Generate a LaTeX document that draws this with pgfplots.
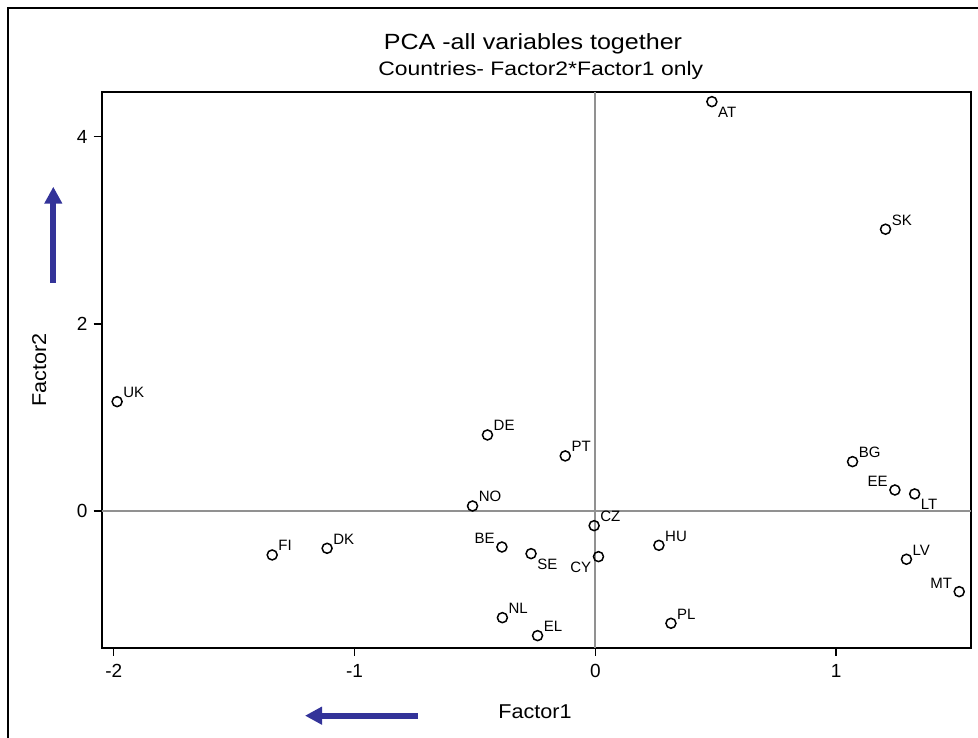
\documentclass[border=0pt]{standalone}
\usepackage{fontspec}
\setmainfont{Liberation Sans}
\usepackage{graphicx}
\usepackage{pgfplots}
\pgfplotsset{compat=1.18}
\usetikzlibrary{arrows.meta}

\definecolor{arrowblue}{RGB}{51,51,153}
\definecolor{refgray}{RGB}{145,145,145}
\newcommand\labelfont{\fontsize{15}{17}\selectfont}

\begin{document}
\begin{tikzpicture}[x=1pt,y=1pt]
\useasboundingbox (0,0) rectangle (978,738);
% outer frame of the graph window
\draw[line width=2pt] (8.3,-10) -- (8.3,729.7) -- (990,729.7);

\begin{axis}[
  at={(101.7pt,90pt)}, anchor=south west,
  width=869.3pt, height=556pt, scale only axis,
  xmin=-2.050, xmax=1.560, ymin=-1.464, ymax=4.476,
  axis line style={line width=1.8pt},
  xtick={-2,-1,0,1}, ytick={0,2,4},
  xticklabels={-2,-1,0,1}, yticklabels={0,2,4},
  tick align=outside, xtick pos=bottom, ytick pos=left,
  major tick length=8pt,
  tick style={line width=1.5pt, black},
  ticklabel style={font=\fontsize{19}{21}\selectfont},
  x tick label style={yshift=-5pt},
  y tick label style={xshift=-2.7pt},
  clip=false,
]
% reference lines through the origin
\addplot[refgray, line width=2pt, forget plot] coordinates {(0,-1.464) (0,4.476)};
\addplot[refgray, line width=2pt, forget plot] coordinates {(-2.050,0) (1.560,0)};

% labels above right
\addplot[only marks, mark=o, mark size=5pt, mark options={line width=1.5pt, black},
  nodes near coords, point meta=explicit symbolic,
  every node near coord/.style={anchor=base west, inner sep=0pt, xshift=5.5pt, yshift=4pt, font=\labelfont, black}]
  table[meta=label] {
x      y      label
-1.986  1.168 UK
-1.342 -0.470 FI
-1.114 -0.399 DK
-0.510  0.053 NO
-0.448  0.812 DE
-0.386 -1.140 NL
-0.240 -1.332 EL
-0.125  0.588 PT
-0.005 -0.157 CZ
 0.264 -0.367 HU
 0.314 -1.200 PL
 1.068  0.527 BG
 1.205  3.010 SK
 1.292 -0.516 LV
};

% labels below right
\addplot[only marks, mark=o, mark size=5pt, mark options={line width=1.5pt, black},
  nodes near coords, point meta=explicit symbolic,
  every node near coord/.style={anchor=base west, inner sep=0pt, xshift=5.5pt, yshift=-16pt, font=\labelfont, black}]
  table[meta=label] {
x      y      label
 0.484  4.373 AT
-0.267 -0.456 SE
 1.326  0.182 LT
};

% labels above left
\addplot[only marks, mark=o, mark size=5pt, mark options={line width=1.5pt, black},
  nodes near coords, point meta=explicit symbolic,
  every node near coord/.style={anchor=base east, inner sep=0pt, xshift=-6.5pt, yshift=3.5pt, font=\labelfont, black}]
  table[meta=label] {
x      y      label
-0.388 -0.385 BE
 1.244  0.224 EE
 1.511 -0.862 MT
};

% labels below left
\addplot[only marks, mark=o, mark size=5pt, mark options={line width=1.5pt, black},
  nodes near coords, point meta=explicit symbolic,
  every node near coord/.style={anchor=base east, inner sep=0pt, xshift=-6.5pt, yshift=-15.5pt, font=\labelfont, black}]
  table[meta=label] {
x      y      label
 0.013 -0.488 CY
};
\end{axis}

% titles
\node[anchor=base, inner sep=0pt] at (533,688.5)
  {\fontsize{22}{24}\selectfont\scalebox{1.14}[1]{PCA -all variables together}};
\node[anchor=base, inner sep=0pt] at (540.8,662.5)
  {\fontsize{19.5}{22}\selectfont\scalebox{1.175}[1]{Countries- Factor2*Factor1 only}};

% axis labels
\node[anchor=base, inner sep=0pt] at (535,19)
  {\fontsize{20}{22}\selectfont\scalebox{1.08}[1]{Factor1}};
\node[anchor=base, inner sep=0pt, rotate=90] at (46,368)
  {\fontsize{20}{22}\selectfont\scalebox{1.08}[1]{Factor2}};

% direction arrows
\draw[arrowblue, line width=6pt, -{Triangle[length=17pt,width=17pt]}] (53.3,455) -- (53.3,551.3);
\draw[arrowblue, line width=6pt, -{Triangle[length=17pt,width=17pt]}] (418,22.3) -- (305,22.3);
\end{tikzpicture}
\end{document}
